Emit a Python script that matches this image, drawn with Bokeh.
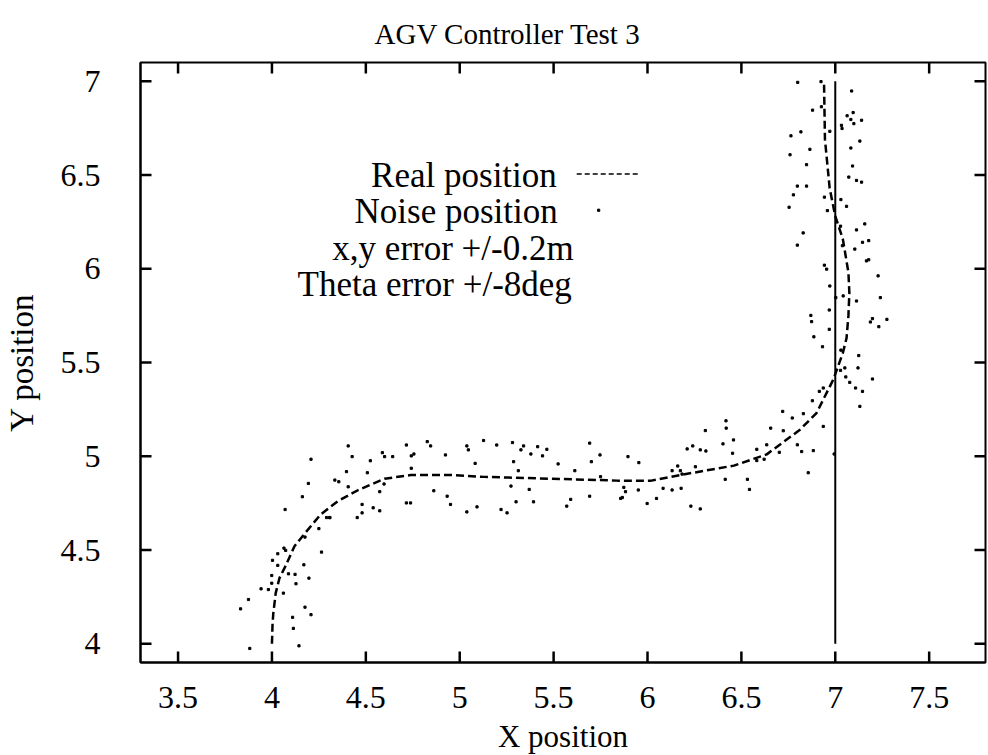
from bokeh.plotting import figure
from bokeh.models import FixedTicker, Label, Range1d
from bokeh.embed import file_html
from bokeh.resources import INLINE

# ---------------- data ----------------
title_text = "AGV Controller Test 3"
x_label = "X position"
y_label = "Y position"

x_ticks = [3.5, 4, 4.5, 5, 5.5, 6, 6.5, 7, 7.5]
x_tick_labels = ["3.5", "4", "4.5", "5", "5.5", "6", "6.5", "7", "7.5"]
y_ticks = [4, 4.5, 5, 5.5, 6, 6.5, 7]
y_tick_labels = ["4", "4.5", "5", "5.5", "6", "6.5", "7"]

# real (dashed) path
real_x = [4.0, 4.003, 4.007, 4.02, 4.04, 4.07, 4.12, 4.176, 4.26, 4.35, 4.46, 4.60,
          4.74, 4.95, 5.13, 5.49, 5.84, 6.02, 6.175, 6.46, 6.635, 6.81, 6.90, 6.99,
          7.04, 7.06, 7.07, 7.075, 7.07, 7.04, 7.0, 6.97, 6.945, 6.94]
real_y = [4.0, 4.1, 4.16, 4.27, 4.35, 4.41, 4.52, 4.59, 4.69, 4.76, 4.82, 4.88,
          4.90, 4.90, 4.89, 4.88, 4.87, 4.87, 4.90, 4.95, 5.01, 5.14, 5.23, 5.41,
          5.55, 5.63, 5.75, 5.87, 5.98, 6.16, 6.28, 6.43, 6.69, 7.0]

# reference (solid) path
ref_x = [7.0, 7.0]
ref_y = [4.0, 7.0]

# noisy positions
noise_x = [4.208, 4.194, 4.162, 4.070, 4.291, 4.308, 4.250, 4.176, 4.064, 4.073,
           4.031, 4.264, 4.170, 4.031, 4.003, 4.088, 4.123, 3.999, 4.197, 4.128,
           3.999, 3.942, 3.981, 4.061, 3.875, 3.833, 4.176, 4.208, 4.110, 4.114,
           3.882, 4.144,
           4.406, 4.427, 4.397, 4.335, 4.356, 4.406, 4.508, 4.524, 4.588, 4.600,
           4.643, 4.716, 4.742, 4.756, 4.742, 4.597, 4.574, 4.827, 4.845, 4.924,
           4.862, 4.933, 4.951, 4.716, 4.738, 4.480, 4.539, 4.574, 4.480, 4.454,
           4.308, 5.038, 5.046, 5.127, 5.197, 5.281, 5.082, 5.287, 5.273, 5.300,
           5.092, 5.038, 5.220, 5.252,
           5.312, 5.340, 5.326, 5.415, 5.464, 5.379, 5.441, 5.524, 5.613, 5.692,
           5.747, 5.701, 5.896, 5.954, 5.370, 5.393, 5.591, 5.570, 5.692, 5.750,
           5.874, 5.883, 5.866, 5.857, 5.951, 5.998, 6.048, 6.083, 6.131, 6.179,
           6.131, 6.161, 6.175, 6.184, 6.255, 6.211, 6.241, 6.281, 6.308, 6.311,
           6.231, 6.281,
           6.418, 6.419, 6.402, 6.458, 6.453, 6.414, 6.532, 6.543, 6.582, 6.582,
           6.621, 6.635, 6.656, 6.702, 6.723, 6.720, 6.771, 6.798, 6.821, 6.830,
           6.856, 6.883, 6.878, 6.915, 6.936, 6.936, 6.994,
           6.870, 6.874, 6.886, 6.968, 6.968, 6.932, 7.003, 7.042, 7.113, 7.240,
           7.198, 7.187, 7.232, 7.275, 7.030, 7.051, 7.125, 7.121, 7.028, 7.056,
           7.077, 7.198, 7.108, 7.145, 7.131,
           6.800, 6.924, 7.087, 6.879, 6.926, 7.095, 7.063, 7.083, 7.140, 7.099,
           7.033, 7.036, 6.971, 6.817, 6.764, 7.131, 6.865, 7.083, 6.759, 6.847,
           7.092, 7.072, 7.113, 7.140, 6.798, 6.847, 6.777, 6.942, 7.030, 6.754,
           7.060, 6.958, 7.028, 7.157, 7.113, 6.829, 7.178, 7.145, 6.798, 7.038,
           7.104, 7.166, 7.178, 6.942, 6.954, 7.228, 6.971]
noise_y = [4.984, 4.855, 4.784, 4.716, 4.673, 4.673, 4.614, 4.569, 4.510, 4.498,
           4.480, 4.489, 4.421, 4.418, 4.445, 4.373, 4.370, 4.364, 4.350, 4.320,
           4.323, 4.293, 4.289, 4.270, 4.236, 4.186, 4.195, 4.155, 4.141, 4.082,
           3.975, 3.989,
           5.055, 4.998, 4.918, 4.873, 4.864, 4.837, 4.912, 4.976, 5.019, 4.998,
           4.998, 5.060, 5.002, 5.012, 4.936, 4.852, 4.811, 5.078, 5.055, 5.007,
           4.816, 4.787, 4.743, 4.751, 4.751, 4.743, 4.725, 4.709, 4.698, 4.673,
           4.673, 5.055, 5.034, 5.084, 5.060, 5.073, 4.962, 4.971, 4.841, 4.757,
           4.730, 4.703, 4.716, 4.698,
           4.923, 5.055, 5.034, 5.051, 5.037, 5.012, 5.002, 4.959, 4.923, 5.070,
           5.007, 4.971, 4.998, 4.966, 4.823, 4.757, 4.770, 4.734, 4.787, 4.891,
           4.834, 4.811, 4.780, 4.775, 4.820, 4.748, 4.775, 4.829, 4.820, 4.829,
           4.923, 4.948, 4.923, 4.905, 4.944, 5.039, 5.055, 5.034, 5.137, 5.028,
           4.734, 4.719,
           5.189, 5.150, 5.066, 5.087, 5.016, 4.877, 4.877, 4.823, 5.037, 4.977,
           4.984, 5.061, 5.150, 5.021, 5.136, 5.239, 5.204, 5.061, 5.025, 5.227,
           4.912, 5.030, 5.296, 5.346, 5.364, 5.159, 5.012,
           5.751, 5.718, 5.637, 5.780, 5.677, 5.584, 5.846, 5.855, 5.828, 5.846,
           5.734, 5.716, 5.691, 5.730, 5.566, 5.471, 5.537, 5.471, 5.458, 5.423,
           5.394, 5.412, 5.364, 5.346, 5.266,
           6.994, 6.998, 6.948, 6.846, 6.864, 6.833, 6.816, 6.796, 6.792, 6.774,
           6.765, 6.748, 6.733, 6.730, 6.709, 6.681, 6.637, 6.644, 6.608, 6.555,
           6.548, 6.489, 6.471, 6.462, 6.441, 6.441, 6.394, 6.382, 6.369, 6.328,
           6.333, 6.310, 6.227, 6.239, 6.207, 6.191, 6.150, 6.141, 6.126, 6.123,
           6.105, 6.042, 6.048, 6.019, 5.998, 5.962, 5.908]

legend_texts = ["Real position", "Noise position", "x,y error +/-0.2m", "Theta error +/-8deg"]

# ---------------- figure ----------------
FONT = "Liberation Serif"
X_RANGE = (3.3, 7.8)
Y_RANGE = (3.9, 7.1)
FRAME_W, FRAME_H = 845, 600
TICK_PX = 11

p = figure(frame_width=FRAME_W, frame_height=FRAME_H,
           x_range=Range1d(*X_RANGE), y_range=Range1d(*Y_RANGE),
           output_backend="svg", toolbar_location=None,
           min_border_left=140, min_border_top=62, min_border_right=2, min_border_bottom=92,
           background_fill_color="white", border_fill_color="white")

p.title.text = title_text
p.title.text_font = FONT
p.title.text_font_size = "29px"
p.title.text_font_style = "normal"
p.title.align = "left"
p.title.offset = 234
p.title.standoff = 25
p.title.text_color = "black"

p.xgrid.visible = False
p.ygrid.visible = False
p.outline_line_color = "black"
p.outline_line_width = 2


def style_axis(ax, ticks, labels):
    ax.ticker = FixedTicker(ticks=ticks)
    ax.major_label_overrides = {t: l for t, l in zip(ticks, labels)}
    ax.major_tick_in = 0
    ax.major_tick_out = 0
    ax.minor_tick_line_color = None
    ax.axis_line_width = 2
    ax.axis_line_color = "black"
    ax.major_label_text_font = FONT
    ax.major_label_text_color = "black"
    ax.major_label_text_font_size = "32px"
    ax.axis_label_text_font = FONT
    ax.axis_label_text_font_style = "normal"
    ax.axis_label_text_color = "black"


style_axis(p.xaxis[0], x_ticks, x_tick_labels)
style_axis(p.yaxis[0], y_ticks, y_tick_labels)
p.xaxis[0].major_label_standoff = 24
p.yaxis[0].major_label_standoff = 40
p.xaxis[0].axis_label = x_label
p.yaxis[0].axis_label = y_label
p.xaxis[0].axis_label_text_font_size = "31px"
p.yaxis[0].axis_label_text_font_size = "33px"
p.xaxis[0].axis_label_standoff = 8
p.yaxis[0].axis_label_standoff = 18

# inward ticks on all four frame edges, placed at the axis tick values
dy = TICK_PX * (Y_RANGE[1] - Y_RANGE[0]) / FRAME_H
dx = TICK_PX * (X_RANGE[1] - X_RANGE[0]) / FRAME_W
nx, ny = len(x_ticks), len(y_ticks)
tick_style = dict(line_color="black", line_width=2.5, line_cap="butt")
p.segment(x0=x_ticks, x1=x_ticks, y0=[Y_RANGE[0]] * nx, y1=[Y_RANGE[0] + dy] * nx, **tick_style)
p.segment(x0=x_ticks, x1=x_ticks, y0=[Y_RANGE[1]] * nx, y1=[Y_RANGE[1] - dy] * nx, **tick_style)
p.segment(x0=[X_RANGE[0]] * ny, x1=[X_RANGE[0] + dx] * ny, y0=y_ticks, y1=y_ticks, **tick_style)
p.segment(x0=[X_RANGE[1]] * ny, x1=[X_RANGE[1] - dx] * ny, y0=y_ticks, y1=y_ticks, **tick_style)

# data marks
p.line(ref_x, ref_y, line_color="black", line_width=2)
p.line(real_x, real_y, line_color="black", line_width=2.5, line_dash="8 4")
p.scatter(noise_x, noise_y, marker="square", size=2.2, fill_color="black", line_color="black")

# gnuplot-style key (right-aligned text, sample at right)
key_right = [5.517, 5.522, 5.607, 5.597]
key_y = [6.496, 6.303, 6.110, 5.918]
for t, kx, ky in zip(legend_texts, key_right, key_y):
    p.add_layout(Label(x=kx, y=ky, text=t, text_align="right", text_baseline="middle",
                       text_font=FONT, text_font_size="35px", text_color="black"))
p.line([5.623, 5.958], [6.505, 6.505], line_color="black", line_width=1.5, line_dash="5 3")
p.scatter([5.740], [6.312], marker="square", size=2.2, fill_color="black", line_color="black")

open("out.html", "w").write(file_html(p, INLINE))
